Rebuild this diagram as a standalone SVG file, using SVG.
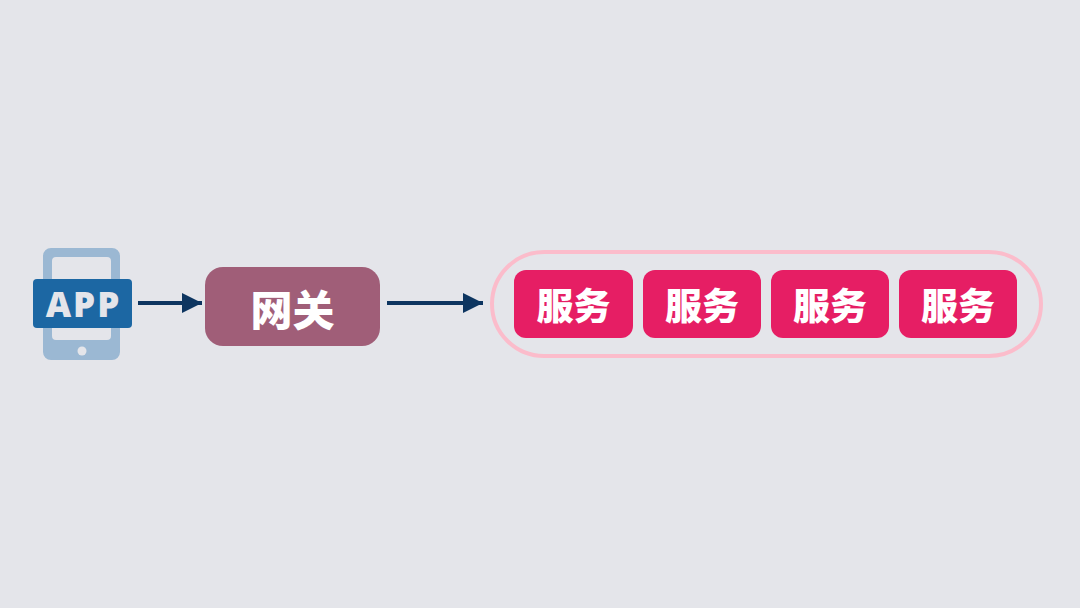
<svg xmlns="http://www.w3.org/2000/svg" width="1080" height="608" viewBox="0 0 1080 608">
  <style>
    .cjk { font-family: "Noto Sans CJK SC", "Noto Sans", sans-serif; font-weight: 900; fill: #FFFFFF; text-anchor: middle; dominant-baseline: central; }
    .svc rect { fill: #E61E64; }
    .conn line { stroke: #0D3560; stroke-width: 4; }
    .applbl { font-family: "Open Sans", "Liberation Sans", Arial, sans-serif; font-weight: 800; font-size: 35px; fill: #E4E5EA; text-anchor: middle; letter-spacing: 2px; }
  </style>
  <defs>
    <marker id="arrow" viewBox="0 0 20 20" refX="20" refY="10" markerWidth="20" markerHeight="20" markerUnits="userSpaceOnUse" orient="auto">
      <path d="M0,0 L20,10 L0,20 Z" fill="#0D3560"/>
    </marker>
  </defs>
  <rect width="1080" height="608" fill="#E4E5EA"/>

  <g id="app">
    <path fill="#9BB8D3" fill-rule="evenodd" d="M51,248 H112 A8,8 0 0 1 120,256 V352 A8,8 0 0 1 112,360 H51 A8,8 0 0 1 43,352 V256 A8,8 0 0 1 51,248 Z M56,257 H107 A4,4 0 0 1 111,261 V336 A4,4 0 0 1 107,340 H56 A4,4 0 0 1 52,336 V261 A4,4 0 0 1 56,257 Z"/>
    <circle cx="82" cy="351" r="4.5" fill="#E4E5EA"/>
    <rect x="33" y="279" width="99" height="49" rx="4" fill="#1C67A3"/>
    <text class="applbl" x="83.5" y="316.5">APP</text>
  </g>

  <g id="gateway">
    <rect x="205" y="267" width="175" height="79" rx="18" fill="#A05E78"/>
    <text class="cjk" x="292.5" y="307" font-size="42">网关</text>
  </g>

  <g id="services">
    <rect x="492" y="252" width="549" height="104" rx="52" fill="none" stroke="#FBBCCB" stroke-width="4"/>
    <g id="svc1" class="svc"><rect x="514" y="270" width="119" height="68" rx="12"/><text class="cjk" x="573.5" y="304" font-size="37">服务</text></g>
    <g id="svc2" class="svc"><rect x="643" y="270" width="118" height="68" rx="12"/><text class="cjk" x="702" y="304" font-size="37">服务</text></g>
    <g id="svc3" class="svc"><rect x="771" y="270" width="118" height="68" rx="12"/><text class="cjk" x="830" y="304" font-size="37">服务</text></g>
    <g id="svc4" class="svc"><rect x="899" y="270" width="118" height="68" rx="12"/><text class="cjk" x="958" y="304" font-size="37">服务</text></g>
  </g>

  <g id="connectors" class="conn">
    <line x1="138" y1="303" x2="202" y2="303" marker-end="url(#arrow)"/>
    <line x1="387" y1="303" x2="483" y2="303" marker-end="url(#arrow)"/>
  </g>
</svg>
